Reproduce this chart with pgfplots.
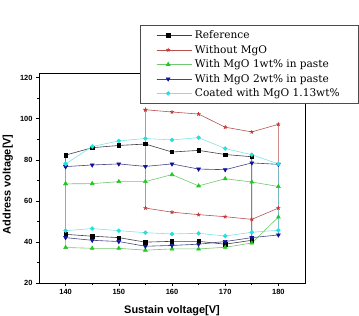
\documentclass[border=0pt]{standalone}
\usepackage{fontspec}
\setmainfont{Liberation Serif}
\setsansfont{Liberation Sans}
\newfontfamily\legfont{DejaVu Serif}
\usepackage{pgfplots}
\pgfplotsset{compat=1.18}
\definecolor{refline}{HTML}{404040}
\definecolor{redmark}{HTML}{C83232}
\definecolor{redline}{HTML}{B85050}
\definecolor{grnmark}{HTML}{22C822}
\definecolor{grnline}{HTML}{70C870}
\definecolor{blumark}{HTML}{10109A}
\definecolor{bluline}{HTML}{454585}
\definecolor{cyamark}{HTML}{22E0E0}
\definecolor{cyaline}{HTML}{80E4E4}
\begin{document}
\begin{tikzpicture}
\path[use as bounding box] (0,0) rectangle (359bp,316bp);
\begin{axis}[
  at={(39bp,33bp)}, anchor=south west,
  scale only axis, width=266bp, height=210bp,
  xmin=135, xmax=185, ymin=20, ymax=122.3,
  xtick={140,150,...,180}, ytick={20,40,...,120},
  minor x tick num=1, minor y tick num=1,
  tick align=outside, xtick pos=bottom, ytick pos=left,
  major tick length=3bp, minor tick length=1.8bp,
  axis line style={line width=0.9pt},
  every tick/.style={black, line width=0.6pt},
  tick label style={font=\sffamily\bfseries\fontsize{7.5}{8}\selectfont},
  /pgf/number format/assume math mode=true,
  xlabel={Sustain voltage[V]}, ylabel={Address voltage[V]},
  label style={font=\sffamily\bfseries\fontsize{11}{12}\selectfont},
  xlabel style={at={(0.5,-0.133)}, anchor=center},
  ylabel style={at={(-0.117,0.47)}, anchor=center},
  legend style={at={(0.38,1.229)}, anchor=north west, draw=black!70, line width=0.6pt, fill=white,
    font=\legfont\fontsize{10.6}{14}\selectfont, inner xsep=16bp, inner ysep=3bp,
    nodes={inner xsep=3bp, inner ysep=1pt, text height=9.5bp, text depth=3bp}},
  legend cell align=left,
  legend image code/.code={\path (0bp,0bp) -- (35bp,0bp);\draw[mark repeat=2,mark phase=2,#1] plot coordinates {(0bp,0bp) (11.5bp,0bp) (23bp,0bp)};},
  every axis plot/.append style={line width=0.6pt},
]
\addplot[refline, mark=square*, mark size=1.7pt, mark options={black, fill=black}] coordinates {
 (140,82.3) (145,85.9) (150,87.0) (155,87.7) (160,83.8) (165,84.6) (170,82.6) (175,81.5)
 (175,40.8) (170,38.9) (165,40.3) (160,40.3) (155,39.9) (150,42.1) (145,42.8) (140,43.7) (140,82.3)};
\addlegendentry{Reference}
\addplot[redline, mark=star, mark size=2pt, mark options={redmark, line width=0.8pt}] coordinates {
 (155,104.4) (160,103.3) (165,102.3) (170,95.9) (175,93.6) (180,97.3)
 (180,56.5) (175,51.0) (170,52.3) (165,53.3) (160,54.5) (155,56.5) (155,104.4)};
\addlegendentry{Without MgO}
\addplot[grnline, mark=triangle*, mark size=2.2pt, mark options={grnmark, fill=grnmark}] coordinates {
 (140,68.3) (145,68.4) (150,69.4) (155,69.4) (160,72.8) (165,67.3) (170,70.8) (175,69.2) (180,67.0)
 (180,52.1) (175,39.5) (170,37.4) (165,36.6) (160,36.6) (155,36.0) (150,36.9) (145,36.9) (140,37.3) (140,68.3)};
\addlegendentry{With MgO 1wt\% in paste}
\addplot[bluline, mark=triangle*, mark size=2.2pt, mark options={blumark, fill=blumark, rotate=180}] coordinates {
 (140,76.7) (145,77.5) (150,78.0) (155,76.8) (160,78.0) (165,75.5) (170,75.2) (175,78.5) (180,77.8)
 (180,43.4) (175,42.1) (170,40.2) (165,38.9) (160,38.3) (155,37.9) (150,40.2) (145,40.8) (140,42.1) (140,76.7)};
\addlegendentry{With MgO 2wt\% in paste}
\addplot[cyaline, mark=*, mark size=1.9pt, mark options={cyamark, fill=cyamark}] coordinates {
 (140,78.0) (145,86.5) (150,89.2) (155,90.4) (160,89.7) (165,90.8) (170,85.5) (175,82.5) (180,78.0)
 (180,45.7) (175,44.7) (170,42.9) (165,44.2) (160,43.9) (155,44.5) (150,45.5) (145,46.5) (140,45.5) (140,78.0)};
\addlegendentry{Coated with MgO 1.13wt\%}
\end{axis}
\end{tikzpicture}
\end{document}
